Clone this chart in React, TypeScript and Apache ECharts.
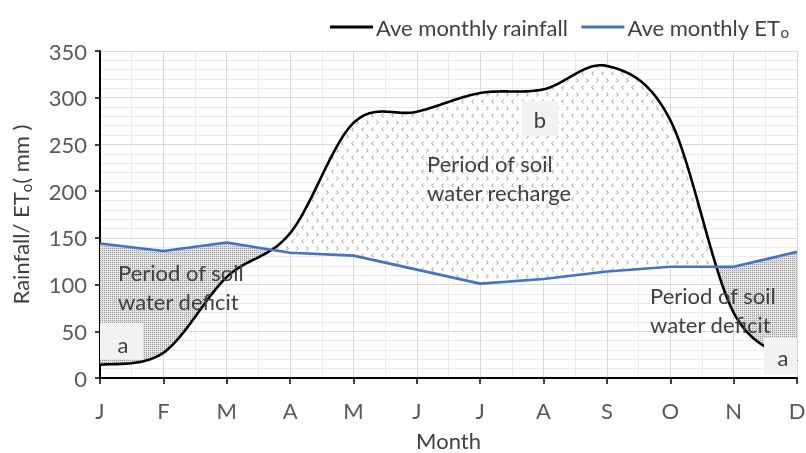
import React, { useEffect, useRef } from 'react';
import * as echarts from 'echarts';

const months = ['J', 'F', 'M', 'A', 'M', 'J', 'J', 'A', 'S', 'O', 'N', 'D'];
const rainfall = [14, 27, 108, 155, 273, 285, 305, 309, 334, 276, 70, 18];
const eto = [144, 136, 145, 134, 131, 116, 101, 106, 114, 119, 119, 135];
const yMin = 0;
const yMax = 350;
const yStep = 50;

const FONT = 'Lato, "Open Sans", sans-serif';
const FS = 22;
const TXT = '#404040';
const LBL = '#595959';

const svgUri = (s: string) => 'data:image/svg+xml;charset=utf-8,' + encodeURIComponent(s);
const dotTile = svgUri(
  '<svg xmlns="http://www.w3.org/2000/svg" width="2" height="2"><rect width="2" height="2" fill="#e2e2e2"/><rect width="1" height="1" fill="#989898"/></svg>'
);
const chevTile = svgUri(
  '<svg xmlns="http://www.w3.org/2000/svg" width="10" height="14"><rect width="10" height="14" fill="#ffffff"/>' +
    '<polyline points="3.7,1.7 1.6,3.5 3.7,5.3" fill="none" stroke="#8c8c8c" stroke-width="0.9"/>' +
    '<polyline points="6.3,8.7 8.4,10.5 6.3,12.3" fill="none" stroke="#8c8c8c" stroke-width="0.9"/></svg>'
);

function renderFills(params: any, api: any) {
  if (params.dataIndex !== 0) return null;
  const R = rainfall.map((v, i) => api.coord([i, v]));
  const E = eto.map((v, i) => api.coord([i, v]));
  const pts: number[][] = [];
  const N = 40;
  const n = R.length;
  for (let i = 0; i < n - 1; i++) {
    const p0 = R[Math.max(i - 1, 0)];
    const p1 = R[i];
    const p2 = R[i + 1];
    const p3 = R[Math.min(i + 2, n - 1)];
    const c1 = [p1[0] + (p2[0] - p0[0]) / 6, p1[1] + (p2[1] - p0[1]) / 6];
    const c2 = [p2[0] - (p3[0] - p1[0]) / 6, p2[1] - (p3[1] - p1[1]) / 6];
    for (let k = i === 0 ? 0 : 1; k <= N; k++) {
      const t = k / N;
      const u = 1 - t;
      const a = u * u * u, b = 3 * u * u * t, c = 3 * u * t * t, d = t * t * t;
      pts.push([
        a * p1[0] + b * c1[0] + c * c2[0] + d * p2[0],
        a * p1[1] + b * c1[1] + c * c2[1] + d * p2[1],
      ]);
    }
  }
  const etAt = (x: number) => {
    for (let j = 0; j < E.length - 1; j++) {
      if (x <= E[j + 1][0] || j === E.length - 2) {
        const t = (x - E[j][0]) / (E[j + 1][0] - E[j][0]);
        return E[j][1] + (E[j + 1][1] - E[j][1]) * Math.max(0, Math.min(1, t));
      }
    }
    return E[E.length - 1][1];
  };
  const defTop: number[][] = [];
  const defBot: number[][] = [];
  const recTop: number[][] = [];
  const recBot: number[][] = [];
  pts.forEach(([x, yr]) => {
    const ye = etAt(x);
    defTop.push([x, ye]);
    defBot.push([x, Math.max(yr, ye)]);
    recTop.push([x, Math.min(yr, ye)]);
    recBot.push([x, ye]);
  });
  const defPoly = defTop.concat(defBot.slice().reverse());
  const recPoly = recTop.concat(recBot.slice().reverse());
  return {
    type: 'group',
    children: [
      {
        type: 'polygon',
        shape: { points: defPoly },
        style: { fill: { image: dotTile, repeat: 'repeat', imageWidth: 2, imageHeight: 2 }, stroke: 'none' },
      },
      {
        type: 'polygon',
        shape: { points: recPoly },
        style: { fill: { image: chevTile, repeat: 'repeat', imageWidth: 10, imageHeight: 14 }, stroke: 'none' },
      },
      {
        type: 'polyline',
        shape: { points: pts },
        style: { stroke: '#000000', lineWidth: 2.6, fill: 'none' },
      },
    ],
  };
}

export default function App() {
  const ref = useRef<HTMLDivElement>(null);
  useEffect(() => {
    if (!ref.current) return;
    const chart = echarts.init(ref.current, undefined, { renderer: 'svg' });
    const boxStyle = { fill: '#f2f2f2' };
    const txt = (text: string, x: number, y: number, extra: any = {}) => ({
      type: 'text',
      x,
      y,
      z: 20,
      style: { text, fill: TXT, font: `${FS}px ${FONT}`, lineHeight: 29, textVerticalAlign: 'middle', ...extra },
    });
    const sub = { fontSize: 15, color: TXT, fontFamily: FONT, padding: [10, 0, 0, 0] };
    chart.setOption({
      animation: false,
      textStyle: { fontFamily: FONT },
      grid: { left: 100, right: 9, top: 51, bottom: 75, outerBoundsMode: 'none', containLabel: false },
      legend: {
        left: 325,
        top: 11,
        icon: 'rect',
        itemWidth: 43,
        itemHeight: 3,
        itemGap: 13,
        data: ['Ave monthly rainfall', 'Ave monthly ETo'],
        formatter: (name: string) => (name === 'Ave monthly ETo' ? 'Ave monthly ET{sub|o}' : name),
        textStyle: {
          fontSize: FS,
          color: TXT,
          fontFamily: FONT,
          padding: [0, 0, 0, -2],
          rich: { sub },
        },
      },
      xAxis: {
        type: 'value',
        min: 0,
        max: months.length - 1,
        interval: 1,
        name: 'Month',
        nameLocation: 'middle',
        nameGap: 52,
        nameTextStyle: { fontSize: FS, lineHeight: 20, color: TXT, fontFamily: FONT },
        axisLine: { show: true, lineStyle: { color: '#000', width: 2 } },
        axisTick: { show: true, length: 6, lineStyle: { color: '#000', width: 1.5 } },
        axisLabel: { formatter: (v: number) => months[v] ?? '', fontSize: FS, color: LBL, margin: 21, fontFamily: FONT },
        splitLine: { show: true, lineStyle: { color: '#d9d9d9', width: 1 } },
        minorTick: { show: false, splitNumber: 2 },
        minorSplitLine: { show: true, lineStyle: { color: '#ececec', width: 1 } },
      },
      yAxis: {
        type: 'value',
        min: yMin,
        max: yMax,
        interval: yStep,
        name: 'Rainfall/ ET{sub|o}( mm )',
        nameLocation: 'middle',
        nameGap: 67,
        nameTextStyle: {
          fontSize: FS,
          color: TXT,
          fontFamily: FONT,
          rich: { sub },
        },
        axisLine: { show: true, lineStyle: { color: '#000', width: 2 } },
        axisTick: { show: true, length: 5, lineStyle: { color: '#000', width: 1.5 } },
        axisLabel: { fontSize: FS, color: LBL, margin: 13, fontFamily: FONT },
        splitLine: { show: true, lineStyle: { color: '#d9d9d9', width: 1 } },
        minorTick: { show: false, splitNumber: 5 },
        minorSplitLine: { show: true, lineStyle: { color: '#ececec', width: 1 } },
      },
      series: [
        {
          name: 'Water balance',
          type: 'custom',
          coordinateSystem: 'cartesian2d',
          renderItem: renderFills,
          data: [[0, 0]],
          clip: false,
          z: 2,
          silent: true,
        },
        {
          name: 'Ave monthly rainfall',
          type: 'line',
          data: [],
          symbol: 'none',
          lineStyle: { color: '#000000', width: 2.6 },
          itemStyle: { color: '#000000' },
          z: 3,
        },
        {
          name: 'Ave monthly ETo',
          type: 'line',
          data: eto.map((v, i) => [i, v]),
          symbol: 'none',
          lineStyle: { color: '#4472C4', width: 2.6 },
          itemStyle: { color: '#4472C4' },
          z: 4,
        },
      ],
      graphic: [
        { type: 'rect', z: 15, shape: { x: 100, y: 323, width: 43, height: 36 }, style: boxStyle },
        { type: 'rect', z: 15, shape: { x: 521, y: 101, width: 37, height: 35 }, style: boxStyle },
        { type: 'rect', z: 15, shape: { x: 764, y: 338, width: 33, height: 36 }, style: boxStyle },
        txt('a', 123, 344, { textAlign: 'center' }),
        txt('b', 540, 119, { textAlign: 'center' }),
        txt('a', 783, 357, { textAlign: 'center' }),
        txt('Period of soil\nwater deficit', 118, 287),
        txt('Period of soil\nwater recharge', 427, 178),
        txt('Period of soil\nwater deficit', 650, 310),
      ],
    });
    return () => chart.dispose();
  }, []);
  return <div ref={ref} style={{ position: 'fixed', left: 0, top: 0, width: 806, height: 453 }} />;
}
